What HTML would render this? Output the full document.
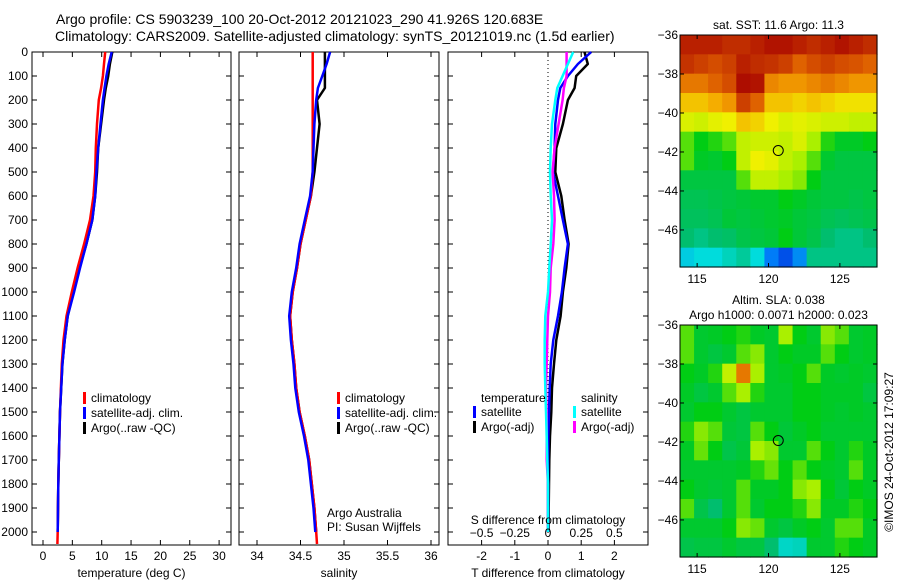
<!DOCTYPE html>
<html><head><meta charset="utf-8"><style>
body{margin:0;background:#fff;}
svg{display:block;font-family:"Liberation Sans",sans-serif;}
text{font-size:12px;fill:#000;}
</style></head><body>
<svg id="fig" width="900" height="580" viewBox="0 0 900 580">
<rect width="900" height="580" fill="#fff"/>
<text x="56" y="24" style="font-size:14px">Argo profile: CS 5903239_100 20-Oct-2012 20121023_290 41.926S 120.683E</text>
<text x="55" y="41" style="font-size:14px">Climatology: CARS2009. Satellite-adjusted climatology: synTS_20121019.nc (1.5d earlier)</text>
<g id="g"></g>
</svg>
<script>
// ---- profile data ----
const depths = [0,50,100,150,200,300,400,500,600,700,800,900,1000,1100,1200,1300,1400,1500,1600,1700,1800,1900,2000,2050];
const tempClim = [10.6,10.4,10.2,9.9,9.5,9.2,9.0,8.9,8.6,8.0,7.0,5.9,4.9,4.0,3.5,3.2,3.05,2.9,2.8,2.7,2.6,2.55,2.5,2.45];
const tempSat  = [11.7,11.2,10.8,10.5,10.2,9.8,9.4,9.1,8.9,8.4,7.4,6.3,5.3,4.2,3.7,3.3,3.1,2.9,2.8,2.7,2.6,2.55,2.5,null];
const tempArgo = [11.8,11.4,11.1,10.7,10.4,9.9,9.4,9.2,8.9,8.4,7.4,6.2,5.2,4.2,3.7,3.3,3.1,2.9,2.8,2.7,2.6,2.55,2.5,null];
const salClim = [34.64,34.64,34.64,34.64,34.64,34.64,34.64,34.64,34.62,34.56,34.5,34.46,34.41,34.38,34.4,34.43,34.45,34.49,34.55,34.6,34.63,34.66,34.68,34.69];
const salSat  = [34.84,34.8,34.75,34.7,34.68,34.66,34.65,34.64,34.61,34.55,34.49,34.45,34.4,34.37,34.39,34.42,34.44,34.48,34.54,34.59,34.62,34.65,34.67,null];
const salArgo = [34.78,34.78,34.78,34.78,34.69,34.72,34.69,34.66,34.62,34.56,34.5,34.46,34.41,34.38,34.4,34.43,34.45,34.49,34.55,34.6,34.63,34.66,34.68,null];
const dTsat  = [1.3,0.9,0.6,0.37,0.3,0.22,0.2,0.15,0.3,0.45,0.6,0.5,0.42,0.3,0.16,0.08,0.05,0.03,0.01,0.0,0.0,0.0,0.0,null];
const dTargo = [1.1,1.2,0.85,0.8,0.6,0.45,0.25,0.22,0.4,0.5,0.62,0.55,0.45,0.38,0.25,0.18,0.12,0.1,0.06,0.04,0.03,0.02,0.02,null];
const dSsat  = [0.19,0.15,0.11,0.07,0.055,0.03,0.02,0.015,0.02,0.03,0.02,0.01,0.0,-0.02,-0.025,-0.025,-0.02,-0.015,-0.01,-0.005,0,0,0,null];
const dSargo = [0.14,0.14,0.14,0.12,0.11,0.08,0.05,0.035,0.045,0.05,0.04,0.02,0.015,0.0,-0.005,-0.01,-0.015,-0.01,-0.01,-0.01,0,0,0,null];
const depthTicks = [0,100,200,300,400,500,600,700,800,900,1000,1100,1200,1300,1400,1500,1600,1700,1800,1900,2000];
const tempTicks = [0,5,10,15,20,25,30];
const salTicks = [34,34.5,35,35.5,36];
const dTTicks = [-2,-1,0,1,2];
const dSTicks = [-0.5,-0.25,0,0.25,0.5];
// ---- map data (rows north->south, cols west->east) ----
const sstGrid = [
[.95,.95,.95,.93,.93,.95,.97,.97,.95,.93,.95,.97,.95,.93],
[.92,.9,.88,.9,.95,.93,.92,.9,.85,.88,.9,.88,.87,.85],
[.82,.82,.85,.88,.98,.97,.8,.78,.78,.8,.82,.8,.78,.78],
[.72,.72,.75,.78,.9,.85,.72,.72,.7,.72,.7,.68,.68,.68],
[.64,.63,.65,.66,.72,.7,.66,.64,.65,.64,.63,.63,.62,.62],
[.55,.5,.52,.55,.62,.63,.63,.62,.64,.6,.52,.48,.48,.5],
[.55,.48,.47,.5,.62,.66,.65,.62,.6,.55,.47,.45,.45,.45],
[.45,.45,.45,.45,.55,.62,.62,.6,.58,.5,.45,.45,.45,.45],
[.43,.43,.44,.45,.46,.47,.47,.5,.48,.46,.45,.45,.44,.45],
[.42,.42,.43,.46,.45,.46,.47,.48,.46,.45,.43,.42,.43,.44],
[.4,.38,.4,.41,.44,.45,.46,.5,.46,.44,.4,.38,.38,.4],
[.28,.3,.3,.33,.36,.3,.18,.12,.2,.38,.38,.38,.38,.38]];
const slaGrid = [
[.55,.47,.48,.5,.52,.48,.47,.6,.5,.47,.58,.55,.47,.48],
[.55,.47,.45,.47,.55,.58,.47,.5,.48,.48,.55,.5,.47,.48],
[.5,.48,.52,.62,.82,.6,.47,.48,.5,.55,.48,.47,.48,.47],
[.48,.45,.47,.55,.6,.52,.47,.47,.5,.5,.48,.48,.48,.45],
[.47,.5,.5,.47,.45,.47,.47,.47,.5,.5,.48,.47,.48,.47],
[.52,.58,.55,.46,.45,.55,.5,.46,.48,.5,.47,.47,.47,.47],
[.48,.56,.5,.44,.46,.6,.58,.47,.47,.55,.5,.47,.52,.48],
[.47,.47,.47,.47,.48,.52,.56,.5,.55,.5,.48,.47,.55,.48],
[.5,.47,.46,.47,.55,.48,.48,.5,.58,.6,.5,.46,.5,.48],
[.55,.44,.4,.47,.55,.47,.5,.5,.52,.58,.48,.48,.52,.5],
[.47,.47,.47,.5,.58,.56,.47,.45,.48,.5,.47,.55,.55,.48],
[.44,.45,.45,.47,.45,.45,.4,.32,.33,.47,.47,.52,.5,.48]];
const lonTicks = [115,120,125];
const latTicks = [-36,-38,-40,-42,-44,-46];
const argoLon = 120.683, argoLat = -41.926;

const NS="http://www.w3.org/2000/svg";
const G=document.getElementById('g');
function mk(tag,attrs,parent){const e=document.createElementNS(NS,tag);for(const k in attrs)e.setAttribute(k,attrs[k]);(parent||G).appendChild(e);return e;}
function txt(x,y,s,anchor,parent){const t=mk('text',{x:x,y:y,'text-anchor':anchor||'start'},parent);t.textContent=s;return t;}

const yTop=52, yBot=545;
const yD = d => yTop + d*0.24;

function panel(name,x0,x1,xs,ticks,labelFmt,xlabel){
  const g=mk('g',{});
  
  
  mk('rect',{x:x0,y:yTop,width:x1-x0,height:yBot-yTop,fill:'none',stroke:'#000','stroke-width':1},g);
  ticks.forEach(v=>{const x=xs(v);
    mk('line',{x1:x,x2:x,y1:yTop,y2:yTop+5,stroke:'#000'},g);
    mk('line',{x1:x,x2:x,y1:yBot,y2:yBot-5,stroke:'#000'},g);
    if(labelFmt){const t=txt(x,yBot+15,labelFmt(v),'middle',g);}
  });
  depthTicks.forEach(d=>{const y=yD(d);
    mk('line',{x1:x0,x2:x0+5,y1:y,y2:y,stroke:'#000'},g);
    mk('line',{x1:x1,x2:x1-5,y1:y,y2:y,stroke:'#000'},g);});
  if(xlabel){const t=txt((x0+x1)/2,yBot+32,xlabel,'middle',g);}
  return g;
}
function profLine(g,xs,vals,color,name,w){
  let p='';
  for(let i=0;i<depths.length;i++){ if(vals[i]==null)break;
    p+=(p?'L':'M')+xs(vals[i]).toFixed(1)+' '+yD(depths[i]).toFixed(1);
  }
  const e=mk('path',{d:p,fill:'none',stroke:color,'stroke-width':w||2.5,'stroke-linejoin':'round'},g);
  
  
}
function legend(g,x,y,items){
  items.forEach((it,i)=>{
    mk('rect',{x:x,y:y+i*15-10,width:3,height:12,fill:it[0]},g);
    const t=txt(x+8,y+i*15,it[1],'start',g);
    
    
  });
}

// Panel 1 temperature
const xT = v => 43 + v*5.87;
const p1=panel('temperature-panel',32,231,xT,tempTicks,v=>String(v),'temperature (deg C)');
depthTicks.forEach(d=>{const t=txt(28,yD(d)+4,String(d),'end',p1);});
profLine(p1,xT,tempArgo,'#000','temp-argo-line',2.5);
profLine(p1,xT,tempClim,'#f00','temp-climatology-line',2.5);
profLine(p1,xT,tempSat,'#00f','temp-satellite-line',2.5);
legend(p1,83,402,[['#f00','climatology'],['#00f','satellite-adj. clim.'],['#000','Argo(..raw -QC)']]);

// Panel 2 salinity
const xS = v => 257 + (v-34)*87;
const p2=panel('salinity-panel',239,439,xS,salTicks,v=>String(v),'salinity');
profLine(p2,xS,salArgo,'#000','sal-argo-line',2.5);
profLine(p2,xS,salClim,'#f00','sal-climatology-line',2.5);
profLine(p2,xS,salSat,'#00f','sal-satellite-line',2.5);
legend(p2,337,402,[['#f00','climatology'],['#00f','satellite-adj. clim.'],['#000','Argo(..raw -QC)']]);
txt(327,517,'Argo Australia','start',p2);
txt(327,531,'PI: Susan Wijffels','start',p2);

// Panel 3 differences
const xdT = v => 548 + v*33.2;
const xdS = v => 548 + v*132.8;
const p3=panel('difference-panel',448,648,xdT,dTTicks,v=>String(v),'T difference from climatology');
mk('line',{x1:548,x2:548,y1:yTop,y2:yBot,stroke:'#000','stroke-dasharray':'1,3'},p3);
profLine(p3,xdT,dTargo,'#000','dT-argo-line',2.5);
profLine(p3,xdT,dTsat,'#00f','dT-satellite-line',2.5);
profLine(p3,xdS,dSargo,'#f0f','dS-argo-line',2.5);
profLine(p3,xdS,dSsat,'#0ff','dS-satellite-line',2.5);
txt(481,402,'temperature','start',p3);
txt(581,402,'salinity','start',p3);
legend(p3,473,416,[['#00f','satellite'],['#000','Argo(-adj)']]);
legend(p3,573,416,[['#0ff','satellite'],['#f0f','Argo(-adj)']]);
txt(548,524,'S difference from climatology','middle',p3);
dSTicks.forEach(v=>{const t=txt(xdS(v),537,String(v).replace('-','\u2212'),'middle',p3);});

// colormap
const stops=[[0,[0,0,140]],[0.15,[0,100,255]],[0.3,[0,220,220]],[0.4,[0,190,110]],[0.5,[0,205,20]],[0.6,[170,240,0]],[0.66,[240,240,0]],[0.76,[245,165,0]],[0.86,[220,90,0]],[1,[165,0,0]]];
function cmap(v){for(let i=1;i<stops.length;i++){if(v<=stops[i][0]){const a=stops[i-1],b=stops[i],f=(v-a[0])/(b[0]-a[0]);return 'rgb('+a[1].map((c,k)=>Math.round(c+(b[1][k]-c)*f)).join(',')+')';}}return 'rgb(165,0,0)';}

const lon0=113.8, lon1=127.6, lat0=-36, lat1=-47.9;
function map(name,mx0,mx1,my0,my1,grid,titles){
  const g=mk('g',{});
  
  
  const xL=v=>mx0+(v-lon0)/(lon1-lon0)*(mx1-mx0);
  const yL=v=>my0+(v-lat0)/(lat1-lat0)*(my1-my0);
  const rows=grid.length, cols=grid[0].length;
  const cw=(mx1-mx0)/cols, ch=(my1-my0)/rows;
  grid.forEach((row,r)=>row.forEach((v,c)=>{
    const e=mk('rect',{x:(mx0+c*cw).toFixed(2),y:(my0+r*ch).toFixed(2),width:(cw+0.6).toFixed(2),height:(ch+0.6).toFixed(2),fill:cmap(v)},g);
    
    
  }));
  mk('rect',{x:mx0,y:my0,width:mx1-mx0,height:my1-my0,fill:'none',stroke:'#000'},g);
  lonTicks.forEach(v=>{const x=xL(v);mk('line',{x1:x,x2:x,y1:my1,y2:my1-4,stroke:'#000'},g);mk('line',{x1:x,x2:x,y1:my0,y2:my0+4,stroke:'#000'},g);
    const t=txt(x,my1+16,String(v),'middle',g);});
  latTicks.forEach(v=>{const y=yL(v);mk('line',{x1:mx0,x2:mx0+4,y1:y,y2:y,stroke:'#000'},g);mk('line',{x1:mx1,x2:mx1-4,y1:y,y2:y,stroke:'#000'},g);
    const t=txt(mx0-2,y+4,String(v).replace('-','\u2212'),'end',g);});
  const c=mk('circle',{cx:xL(argoLon),cy:yL(argoLat),r:5,fill:'none',stroke:'#000','stroke-width':1},g);
  
  
  titles.forEach((s,i)=>{const t=txt((mx0+mx1)/2,my0-6-(titles.length-1-i)*15,s,'middle',g);});
}
map('sst-map',680,877,35,267,sstGrid,['sat. SST: 11.6 Argo: 11.3']);
map('sla-map',680,877,325,557,slaGrid,['Altim. SLA: 0.038','Argo h1000: 0.0071 h2000: 0.023']);
const cr=txt(0,0,'\u00a9IMOS 24-Oct-2012 17:09:27','middle');
cr.setAttribute('transform','translate(893,452) rotate(-90)');


</script>
</body></html>
